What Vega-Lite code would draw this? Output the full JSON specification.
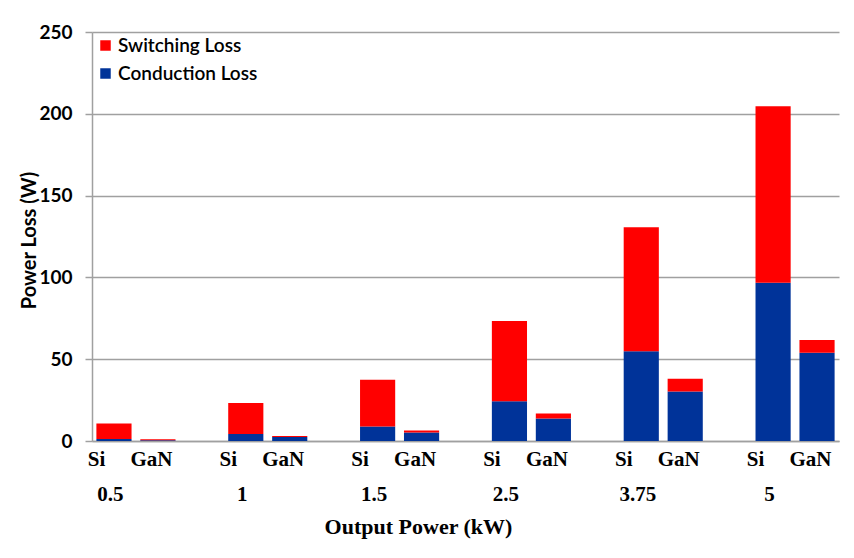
{
  "$schema": "https://vega.github.io/schema/vega-lite/v6.json",
  "autosize": {"type": "none"},
  "width": 747,
  "height": 409,
  "padding": {"left": 92, "top": 32, "right": 15, "bottom": 117},
  "background": "white",
  "title": {"text": "(a)", "font": "Liberation Serif", "fontSize": 16, "fontWeight": "normal", "anchor": "middle", "frame": "group", "offset": 24, "dx": -27, "color": "#000"},
  "data": {
    "values": [
      {"bar": "0.5|Si", "loss": "Conduction Loss", "value": 1.2},
      {"bar": "0.5|Si", "loss": "Switching Loss", "value": 9.5},
      {"bar": "0.5|GaN", "loss": "Conduction Loss", "value": 0.5},
      {"bar": "0.5|GaN", "loss": "Switching Loss", "value": 0.6},
      {"bar": "1|Si", "loss": "Conduction Loss", "value": 4.3},
      {"bar": "1|Si", "loss": "Switching Loss", "value": 19.0},
      {"bar": "1|GaN", "loss": "Conduction Loss", "value": 2.5},
      {"bar": "1|GaN", "loss": "Switching Loss", "value": 0.6},
      {"bar": "1.5|Si", "loss": "Conduction Loss", "value": 8.8},
      {"bar": "1.5|Si", "loss": "Switching Loss", "value": 28.7},
      {"bar": "1.5|GaN", "loss": "Conduction Loss", "value": 5.2},
      {"bar": "1.5|GaN", "loss": "Switching Loss", "value": 1.2},
      {"bar": "2.5|Si", "loss": "Conduction Loss", "value": 24.3},
      {"bar": "2.5|Si", "loss": "Switching Loss", "value": 49.0},
      {"bar": "2.5|GaN", "loss": "Conduction Loss", "value": 13.7},
      {"bar": "2.5|GaN", "loss": "Switching Loss", "value": 3.1},
      {"bar": "3.75|Si", "loss": "Conduction Loss", "value": 54.8},
      {"bar": "3.75|Si", "loss": "Switching Loss", "value": 75.8},
      {"bar": "3.75|GaN", "loss": "Conduction Loss", "value": 30.2},
      {"bar": "3.75|GaN", "loss": "Switching Loss", "value": 7.9},
      {"bar": "5|Si", "loss": "Conduction Loss", "value": 96.8},
      {"bar": "5|Si", "loss": "Switching Loss", "value": 107.8},
      {"bar": "5|GaN", "loss": "Conduction Loss", "value": 54.0},
      {"bar": "5|GaN", "loss": "Switching Loss", "value": 7.7}
    ]
  },
  "resolve": {"axis": {"x": "independent"}},
  "layer": [
    {
      "mark": {"type": "bar", "strokeWidth": 0},
      "encoding": {
        "x": {
          "field": "bar",
          "type": "nominal",
          "scale": {
            "domain": ["0.5|Si", "0.5|GaN", "gap1", "1|Si", "1|GaN", "gap2", "1.5|Si", "1.5|GaN", "gap3", "2.5|Si", "2.5|GaN", "gap4", "3.75|Si", "3.75|GaN", "gap5", "5|Si", "5|GaN"],
            "paddingInner": 0.2,
            "paddingOuter": 0.1
          },
          "axis": {
            "orient": "bottom",
            "title": null,
            "labelExpr": "indexof(datum.value,'|') < 0 ? '' : split(datum.value,'|')[1]",
            "labelFont": "Liberation Serif",
            "labelFontSize": 21,
            "labelFontWeight": "bold",
            "labelColor": "#000",
            "labelAngle": 0,
            "labelPadding": 7,
            "labelOffset": {"condition": {"test": "indexof(datum.value,'|Si') >= 0", "value": -17.5}, "value": -6.5},
            "labelOverlap": false,
            "ticks": false,
            "grid": false,
            "domainColor": "#a0a0a0",
            "domainWidth": 1.5
          }
        },
        "y": {
          "field": "value",
          "type": "quantitative",
          "aggregate": "sum",
          "stack": "zero",
          "scale": {"domain": [0, 250], "nice": false},
          "axis": {
            "title": "Power Loss (W)",
            "titleFont": "Lato",
            "titleFontSize": 20,
            "titleFontWeight": "bold",
            "titleColor": "#000",
            "titleAngle": 270,
            "titleX": -63,
            "titleY": 208,
            "titleAlign": "center",
            "titleBaseline": "middle",
            "values": [0, 50, 100, 150, 200, 250],
            "labelFont": "Lato",
            "labelFontSize": 19,
            "labelFontWeight": "bold",
            "labelColor": "#000",
            "labelPadding": 13,
            "tickSize": 7,
            "tickColor": "#a0a0a0",
            "tickWidth": 1.5,
            "domainColor": "#a0a0a0",
            "domainWidth": 1.5,
            "gridColor": "#a0a0a0",
            "gridWidth": 1.5
          }
        },
        "color": {
          "field": "loss",
          "type": "nominal",
          "scale": {"domain": ["Switching Loss", "Conduction Loss"], "range": ["#FF0000", "#003399"]},
          "legend": {
            "title": null,
            "orient": "top-left",
            "offset": 4,
            "padding": 0,
            "symbolType": "square",
            "symbolSize": 110,
            "symbolStrokeWidth": 0,
            "labelFont": "Lato",
            "labelFontSize": 19,
            "labelFontWeight": 600,
            "labelColor": "#000",
            "labelOffset": 3,
            "rowPadding": 8
          }
        },
        "order": {"field": "loss", "sort": "ascending"}
      }
    },
    {
      "transform": [{"filter": "datum.loss == 'Switching Loss'"}],
      "mark": {"type": "rule", "opacity": 0},
      "encoding": {
        "x": {
          "field": "bar",
          "type": "nominal",
          "axis": {
            "orient": "bottom",
            "title": "Output Power (kW)",
            "titleFont": "Liberation Serif",
            "titleFontSize": 22,
            "titleFontWeight": "bold",
            "titleColor": "#000",
            "titleX": 326,
            "titleY": 75,
            "titleBaseline": "top",
            "titleAlign": "center",
            "labelExpr": "indexof(datum.value,'|Si') < 0 ? '' : split(datum.value,'|')[0]",
            "labelFont": "Liberation Serif",
            "labelFontSize": 21,
            "labelFontWeight": "bold",
            "labelColor": "#000",
            "labelAngle": 0,
            "labelPadding": 42,
            "labelOffset": -3.5,
            "labelOverlap": false,
            "ticks": false,
            "grid": false,
            "domain": false
          }
        }
      }
    }
  ],
  "config": {
    "view": {"stroke": null}
  }
}
